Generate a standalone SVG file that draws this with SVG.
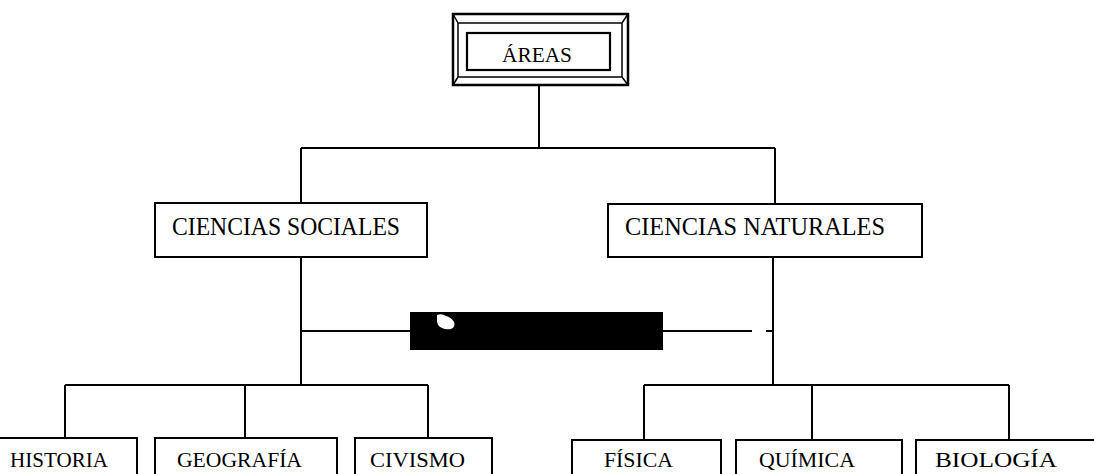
<svg xmlns="http://www.w3.org/2000/svg" width="1094" height="474" viewBox="0 0 1094 474">
<style>
.box{fill:#fff;stroke:#000;stroke-width:2}
.ln{fill:none;stroke:#000;stroke-width:2}
.t{font-family:"Liberation Serif","Times New Roman",serif;fill:#000}
.big{font-size:26px}
.sm{font-size:21px}
</style>
<rect width="1094" height="474" fill="#fff"/>
<g id="connectors" class="ln">
<path d="M539 85V148M301 148H775M301 148V203M775 148V204"/>
<path d="M301 257V385M65 385H428M65 385V438M245 385V438M428 385V438"/>
<path d="M773 257V385M644 385H1009M644 385V440M812 385V440M1009 385V440"/>
<path d="M301 331H410M663 331H752M766 331H773"/>
</g>
<g id="areas">
<rect x="453" y="14" width="175" height="71" fill="#fff" stroke="#000" stroke-width="2.5"/>
<rect x="458" y="23" width="164" height="54" fill="none" stroke="#000" stroke-width="1.5"/>
<path d="M453 14L458 23M628 14L622 23M453 85L458 77M628 85L622 77" stroke="#000" stroke-width="1.5"/>
<rect x="467" y="33" width="143" height="37" fill="#fff" stroke="#000" stroke-width="2.2"/>
<text class="t" x="502" y="62" font-size="22" textLength="70" lengthAdjust="spacingAndGlyphs">ÁREAS</text>
</g>
<g id="sociales">
<rect class="box" x="155" y="203" width="272" height="54"/>
<text class="t big" x="172" y="235" textLength="228" lengthAdjust="spacingAndGlyphs">CIENCIAS SOCIALES</text>
</g>
<g id="naturales">
<rect class="box" x="608" y="204" width="314" height="53"/>
<text class="t big" x="625" y="235" textLength="260" lengthAdjust="spacingAndGlyphs">CIENCIAS NATURALES</text>
</g>
<g id="bar">
<rect x="410" y="312" width="253" height="38" fill="#000"/>
<path d="M437 315q5-2 9 1q5 1 8 6q2 5-3 7q-5 1-9-1q-5-2-5-7z" fill="#fff"/>
</g>
<g id="historia">
<rect class="box" x="-2" y="438" width="139" height="42"/>
<text class="t sm" x="10" y="467" textLength="98" lengthAdjust="spacingAndGlyphs">HISTORIA</text>
</g>
<g id="geografia">
<rect class="box" x="155" y="438" width="182" height="42"/>
<text class="t sm" x="177" y="467" textLength="125" lengthAdjust="spacingAndGlyphs">GEOGRAFÍA</text>
</g>
<g id="civismo">
<rect class="box" x="355" y="438" width="137" height="42"/>
<text class="t sm" x="370" y="467" textLength="95" lengthAdjust="spacingAndGlyphs">CIVISMO</text>
</g>
<g id="fisica">
<rect class="box" x="572" y="440" width="149" height="40"/>
<text class="t sm" x="604" y="467" textLength="69" lengthAdjust="spacingAndGlyphs">FÍSICA</text>
</g>
<g id="quimica">
<rect class="box" x="736" y="440" width="166" height="40"/>
<text class="t sm" x="759" y="467" textLength="96" lengthAdjust="spacingAndGlyphs">QUÍMICA</text>
</g>
<g id="biologia">
<rect class="box" x="916" y="440" width="190" height="40"/>
<text class="t sm" x="935" y="467" textLength="122" lengthAdjust="spacingAndGlyphs">BIOLOGÍA</text>
</g>
</svg>
